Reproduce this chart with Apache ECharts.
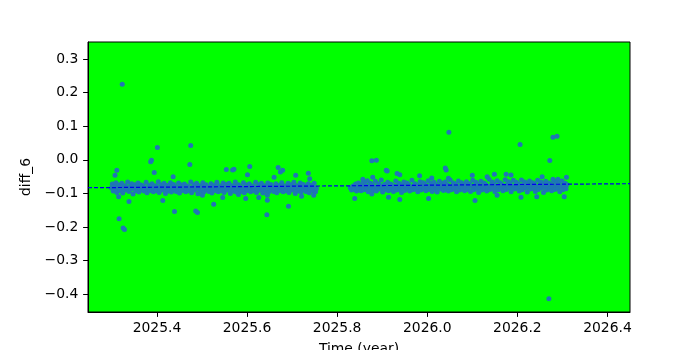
<!DOCTYPE html>
<html>
<head>
<meta charset="utf-8">
<script src="https://cdn.jsdelivr.net/npm/echarts@6/dist/echarts.min.js"></script>
<style>html,body{margin:0;padding:0;background:#fff;}#c{width:700px;height:350px;}</style>
</head>
<body>
<div id="c"></div>
<script>
// Axis extents and tick labels
const xMin = 2025.247, xMax = 2026.450;
const yMin = -0.4527, yMax = 0.3506;
const xTicks = [2025.4, 2025.6, 2025.8, 2026.0, 2026.2, 2026.4];
const yTicks = [-0.4, -0.3, -0.2, -0.1, 0.0, 0.1, 0.2, 0.3];

// Trend line
const trendTimes = [2025.247, 2026.450];
const trendValues = [-0.083, -0.071];

// Main band, first observing span
const band1 = [
[2025.299,-0.084],[2025.301,-0.072],[2025.303,-0.093],[2025.305,-0.079],[2025.307,-0.088],[2025.309,-0.068],[2025.311,-0.097],[2025.313,-0.082],[2025.315,-0.075],[2025.318,-0.091],
[2025.320,-0.080],[2025.322,-0.070],[2025.324,-0.099],[2025.326,-0.086],[2025.329,-0.077],[2025.331,-0.090],[2025.333,-0.083],[2025.335,-0.066],[2025.338,-0.094],[2025.340,-0.079],
[2025.342,-0.087],[2025.344,-0.071],[2025.347,-0.102],[2025.349,-0.084],[2025.351,-0.074],[2025.353,-0.092],[2025.356,-0.081],[2025.358,-0.069],[2025.360,-0.096],[2025.362,-0.086],
[2025.365,-0.075],[2025.367,-0.089],[2025.369,-0.078],[2025.371,-0.093],[2025.374,-0.083],[2025.376,-0.067],[2025.378,-0.098],[2025.380,-0.087],[2025.383,-0.076],[2025.385,-0.091],
[2025.387,-0.081],[2025.389,-0.071],[2025.392,-0.095],[2025.394,-0.085],[2025.396,-0.077],[2025.398,-0.092],[2025.401,-0.080],[2025.403,-0.065],[2025.405,-0.097],[2025.407,-0.088],
[2025.410,-0.074],[2025.412,-0.090],[2025.414,-0.082],[2025.416,-0.070],[2025.419,-0.100],[2025.421,-0.086],[2025.423,-0.076],[2025.425,-0.093],[2025.428,-0.079],[2025.430,-0.068],
[2025.432,-0.096],[2025.434,-0.084],[2025.437,-0.073],[2025.439,-0.089],[2025.441,-0.081],[2025.443,-0.094],[2025.446,-0.083],[2025.448,-0.069],[2025.450,-0.099],[2025.452,-0.087],
[2025.455,-0.075],[2025.457,-0.091],[2025.459,-0.080],[2025.461,-0.072],[2025.464,-0.095],[2025.466,-0.085],[2025.468,-0.078],[2025.470,-0.092],[2025.473,-0.082],[2025.475,-0.066],
[2025.477,-0.098],[2025.479,-0.088],[2025.482,-0.074],[2025.484,-0.090],[2025.486,-0.081],[2025.488,-0.070],[2025.491,-0.101],[2025.493,-0.086],[2025.495,-0.077],[2025.497,-0.093],
[2025.500,-0.079],[2025.502,-0.068],[2025.504,-0.096],[2025.506,-0.084],[2025.509,-0.074],[2025.511,-0.089],[2025.513,-0.082],[2025.515,-0.094],[2025.518,-0.083],[2025.520,-0.071],
[2025.522,-0.099],[2025.524,-0.087],[2025.527,-0.076],[2025.529,-0.091],[2025.531,-0.080],[2025.533,-0.067],[2025.536,-0.095],[2025.538,-0.085],[2025.540,-0.078],[2025.542,-0.092],
[2025.545,-0.081],[2025.547,-0.069],[2025.549,-0.097],[2025.551,-0.088],[2025.554,-0.073],[2025.556,-0.090],[2025.558,-0.082],[2025.560,-0.070],[2025.563,-0.100],[2025.565,-0.086],
[2025.567,-0.077],[2025.569,-0.093],[2025.572,-0.079],[2025.574,-0.066],[2025.576,-0.096],[2025.578,-0.084],[2025.581,-0.074],[2025.583,-0.089],[2025.585,-0.081],[2025.587,-0.094],
[2025.590,-0.083],[2025.592,-0.068],[2025.594,-0.098],[2025.596,-0.087],[2025.599,-0.075],[2025.601,-0.091],[2025.603,-0.080],[2025.605,-0.071],[2025.608,-0.095],[2025.610,-0.085],
[2025.612,-0.078],[2025.614,-0.092],[2025.617,-0.082],[2025.619,-0.067],[2025.621,-0.097],[2025.623,-0.088],[2025.626,-0.074],[2025.628,-0.090],[2025.630,-0.081],[2025.632,-0.070],
[2025.635,-0.099],[2025.637,-0.086],[2025.639,-0.077],[2025.641,-0.093],[2025.644,-0.079],[2025.646,-0.069],[2025.648,-0.096],[2025.650,-0.084],[2025.653,-0.073],[2025.655,-0.089],
[2025.657,-0.082],[2025.659,-0.094],[2025.662,-0.083],[2025.664,-0.071],[2025.666,-0.098],[2025.668,-0.087],[2025.671,-0.076],[2025.673,-0.091],[2025.675,-0.080],[2025.677,-0.068],
[2025.680,-0.095],[2025.682,-0.085],[2025.684,-0.078],[2025.686,-0.092],[2025.689,-0.081],[2025.691,-0.070],[2025.693,-0.097],[2025.695,-0.088],[2025.698,-0.074],[2025.700,-0.090],
[2025.702,-0.082],[2025.704,-0.067],[2025.707,-0.100],[2025.709,-0.086],[2025.711,-0.077],[2025.713,-0.093],[2025.716,-0.079],[2025.718,-0.069],[2025.720,-0.096],[2025.722,-0.084],
[2025.725,-0.073],[2025.727,-0.089],[2025.729,-0.081],[2025.731,-0.094],[2025.734,-0.083],[2025.736,-0.071],[2025.738,-0.098],[2025.740,-0.087],[2025.743,-0.076],[2025.745,-0.091],
[2025.747,-0.080],[2025.749,-0.070],[2025.752,-0.095],[2025.754,-0.085]
];

// Main band, second observing span
const band2 = [
[2025.829,-0.083],[2025.832,-0.090],[2025.835,-0.078],[2025.838,-0.088],[2025.841,-0.072],[2025.843,-0.093],[2025.845,-0.081],[2025.847,-0.069],[2025.849,-0.087],[2025.851,-0.076],
[2025.853,-0.092],[2025.856,-0.080],[2025.858,-0.066],[2025.860,-0.089],[2025.862,-0.074],[2025.865,-0.084],[2025.867,-0.062],[2025.869,-0.095],[2025.871,-0.078],[2025.874,-0.070],
[2025.876,-0.086],[2025.878,-0.075],[2025.880,-0.091],[2025.883,-0.080],[2025.885,-0.064],[2025.887,-0.093],[2025.889,-0.082],[2025.892,-0.071],[2025.894,-0.087],[2025.896,-0.077],
[2025.898,-0.060],[2025.901,-0.096],[2025.903,-0.083],[2025.905,-0.073],[2025.907,-0.089],[2025.910,-0.078],[2025.912,-0.067],[2025.914,-0.092],[2025.916,-0.081],[2025.919,-0.072],
[2025.921,-0.086],[2025.923,-0.076],[2025.925,-0.094],[2025.928,-0.079],[2025.930,-0.063],[2025.932,-0.090],[2025.934,-0.082],[2025.937,-0.070],[2025.939,-0.088],[2025.941,-0.075],
[2025.943,-0.097],[2025.946,-0.080],[2025.948,-0.066],[2025.950,-0.091],[2025.952,-0.078],[2025.955,-0.069],[2025.957,-0.085],[2025.959,-0.074],[2025.961,-0.093],[2025.964,-0.081],
[2025.966,-0.061],[2025.968,-0.089],[2025.970,-0.077],[2025.973,-0.071],[2025.975,-0.087],[2025.977,-0.076],[2025.979,-0.095],[2025.982,-0.082],[2025.984,-0.065],[2025.986,-0.090],
[2025.988,-0.079],[2025.991,-0.068],[2025.993,-0.086],[2025.995,-0.073],[2025.997,-0.092],[2026.000,-0.080],[2026.002,-0.062],[2026.004,-0.088],[2026.006,-0.077],[2026.009,-0.070],
[2026.011,-0.094],[2026.013,-0.081],[2026.015,-0.067],[2026.018,-0.089],[2026.020,-0.075],[2026.022,-0.096],[2026.024,-0.079],[2026.027,-0.064],[2026.029,-0.087],[2026.031,-0.076],
[2026.033,-0.070],[2026.036,-0.091],[2026.038,-0.080],[2026.040,-0.066],[2026.042,-0.088],[2026.045,-0.074],[2026.047,-0.093],[2026.049,-0.082],[2026.051,-0.060],[2026.054,-0.089],
[2026.056,-0.077],[2026.058,-0.069],[2026.060,-0.086],[2026.063,-0.073],[2026.065,-0.095],[2026.067,-0.080],[2026.069,-0.063],[2026.072,-0.090],[2026.074,-0.078],[2026.076,-0.068],
[2026.078,-0.087],[2026.081,-0.075],[2026.083,-0.092],[2026.085,-0.081],[2026.087,-0.065],[2026.090,-0.088],[2026.092,-0.076],[2026.094,-0.071],[2026.096,-0.094],[2026.099,-0.079],
[2026.101,-0.061],[2026.103,-0.089],[2026.105,-0.077],[2026.108,-0.067],[2026.110,-0.086],[2026.112,-0.074],[2026.114,-0.097],[2026.117,-0.082],[2026.119,-0.064],[2026.121,-0.090],
[2026.123,-0.078],[2026.126,-0.069],[2026.128,-0.087],[2026.130,-0.073],[2026.132,-0.093],[2026.135,-0.080],[2026.137,-0.058],[2026.139,-0.088],[2026.141,-0.076],[2026.144,-0.066],
[2026.146,-0.085],[2026.148,-0.072],[2026.150,-0.094],[2026.153,-0.079],[2026.155,-0.062],[2026.157,-0.089],[2026.159,-0.077],[2026.162,-0.068],[2026.164,-0.086],[2026.166,-0.073],
[2026.168,-0.092],[2026.171,-0.080],[2026.173,-0.059],[2026.175,-0.088],[2026.177,-0.075],[2026.180,-0.065],[2026.182,-0.084],[2026.184,-0.071],[2026.186,-0.095],[2026.189,-0.079],
[2026.191,-0.061],[2026.193,-0.087],[2026.195,-0.076],[2026.198,-0.067],[2026.200,-0.085],[2026.202,-0.072],[2026.204,-0.093],[2026.207,-0.078],[2026.209,-0.060],[2026.211,-0.089],
[2026.213,-0.074],[2026.216,-0.066],[2026.218,-0.083],[2026.220,-0.070],[2026.222,-0.096],[2026.225,-0.080],[2026.227,-0.063],[2026.229,-0.087],[2026.231,-0.075],[2026.234,-0.068],
[2026.236,-0.085],[2026.238,-0.072],[2026.240,-0.094],[2026.243,-0.079],[2026.245,-0.061],[2026.247,-0.088],[2026.249,-0.076],[2026.252,-0.066],[2026.254,-0.084],[2026.256,-0.071],
[2026.258,-0.097],[2026.261,-0.081],[2026.263,-0.064],[2026.265,-0.090],[2026.267,-0.077],[2026.270,-0.069],[2026.272,-0.086],[2026.274,-0.073],[2026.276,-0.092],[2026.279,-0.080],
[2026.281,-0.062],[2026.283,-0.088],[2026.285,-0.075],[2026.288,-0.067],[2026.290,-0.085],[2026.292,-0.072],[2026.294,-0.095],[2026.297,-0.079],[2026.299,-0.063],[2026.301,-0.089],
[2026.303,-0.076],[2026.306,-0.070],[2026.308,-0.086],[2026.310,-0.074]
];

// Scattered points off the band, first span
const outliers1 = [
[2025.323,0.225],[2025.401,0.037],[2025.475,0.043],[2025.386,-0.006],[2025.388,-0.001],[2025.473,-0.014],
[2025.311,-0.031],[2025.307,-0.046],[2025.394,-0.038],[2025.436,-0.050],[2025.554,-0.029],[2025.568,-0.030],
[2025.571,-0.028],[2025.606,-0.020],[2025.601,-0.044],[2025.669,-0.023],[2025.679,-0.031],[2025.674,-0.036],
[2025.660,-0.052],[2025.736,-0.040],[2025.739,-0.056],[2025.708,-0.046],[2025.316,-0.175],[2025.325,-0.203],
[2025.328,-0.207],[2025.338,-0.124],[2025.413,-0.121],[2025.439,-0.154],[2025.486,-0.152],[2025.490,-0.157],
[2025.526,-0.132],[2025.546,-0.112],[2025.581,-0.103],[2025.597,-0.115],[2025.626,-0.112],[2025.645,-0.105],
[2025.645,-0.120],[2025.644,-0.163],[2025.692,-0.138],[2025.721,-0.108],[2025.748,-0.105],[2025.501,-0.105],
[2025.315,-0.110]
];

// Scattered points off the band, second span
const outliers2 = [
[2026.048,0.082],[2026.206,0.046],[2026.279,0.067],[2026.288,0.070],[2026.272,-0.002],[2026.270,-0.413],
[2025.877,-0.003],[2025.887,-0.001],[2025.909,-0.031],[2025.911,-0.033],[2025.933,-0.041],[2025.939,-0.044],
[2026.040,-0.024],[2026.042,-0.030],[2026.047,-0.055],[2025.983,-0.047],[2026.010,-0.054],[2025.879,-0.052],
[2025.839,-0.115],[2025.877,-0.102],[2025.914,-0.111],[2025.939,-0.118],[2026.003,-0.115],[2026.106,-0.121],
[2026.155,-0.105],[2026.208,-0.111],[2026.243,-0.110],[2026.304,-0.110],[2026.309,-0.052],[2026.149,-0.043],
[2026.175,-0.043],[2026.186,-0.045],[2026.100,-0.046],[2026.133,-0.050],[2026.255,-0.050],[2026.279,-0.058],
[2026.290,-0.058],[2025.857,-0.058]
];

const FONT = 'DejaVu Sans';
const fmt = v => {
  const s = (Math.abs(v) < 1e-9 ? 0 : v).toFixed(1);
  return s.replace('-', '\u2212');
};

const chart = echarts.init(document.getElementById('c'), null, {renderer: 'canvas'});
chart.setOption({
  animation: false,
  backgroundColor: '#ffffff',
  textStyle: {fontFamily: FONT},
  grid: {
    left: 88, right: 70, top: 42, bottom: 38,
    show: true, backgroundColor: '#00ff00', borderColor: '#000000', borderWidth: 1,
    containLabel: false, outerBoundsMode: 'none'
  },
  xAxis: {
    type: 'value', min: xMin, max: xMax,
    name: 'Time (year)', nameLocation: 'middle', nameGap: 30,
    nameTextStyle: {fontFamily: FONT, fontSize: 13.9, color: '#000'},
    axisLine: {show: true, onZero: false, lineStyle: {color: '#000', width: 1}},
    axisTick: {show: true, length: 4.9, lineStyle: {color: '#000'}, customValues: xTicks},
    axisLabel: {margin: 9.7, fontFamily: FONT, fontSize: 13.9, color: '#000', customValues: xTicks, formatter: fmt},
    splitLine: {show: false}
  },
  yAxis: {
    type: 'value', min: yMin, max: yMax,
    name: 'diff_6', nameLocation: 'middle', nameGap: 43,
    nameTextStyle: {fontFamily: FONT, fontSize: 13.9, color: '#000'},
    axisLine: {show: true, onZero: false, lineStyle: {color: '#000', width: 1}},
    axisTick: {show: true, length: 4.9, lineStyle: {color: '#000'}, customValues: yTicks},
    axisLabel: {margin: 9.7, fontFamily: FONT, fontSize: 13.9, color: '#000', customValues: yTicks, formatter: fmt},
    splitLine: {show: false}
  },
  series: [
    {
      type: 'scatter',
      data: band1.concat(band2, outliers1, outliers2),
      symbol: 'circle', symbolSize: 5,
      itemStyle: {color: '#1f77b4', opacity: 1},
      z: 2
    },
    {
      type: 'line',
      data: trendTimes.map((t, i) => [t, trendValues[i]]),
      symbol: 'none',
      lineStyle: {color: '#0000ee', width: 1.2, type: [4, 2]},
      z: 3
    }
  ]
});
</script>
</body>
</html>
